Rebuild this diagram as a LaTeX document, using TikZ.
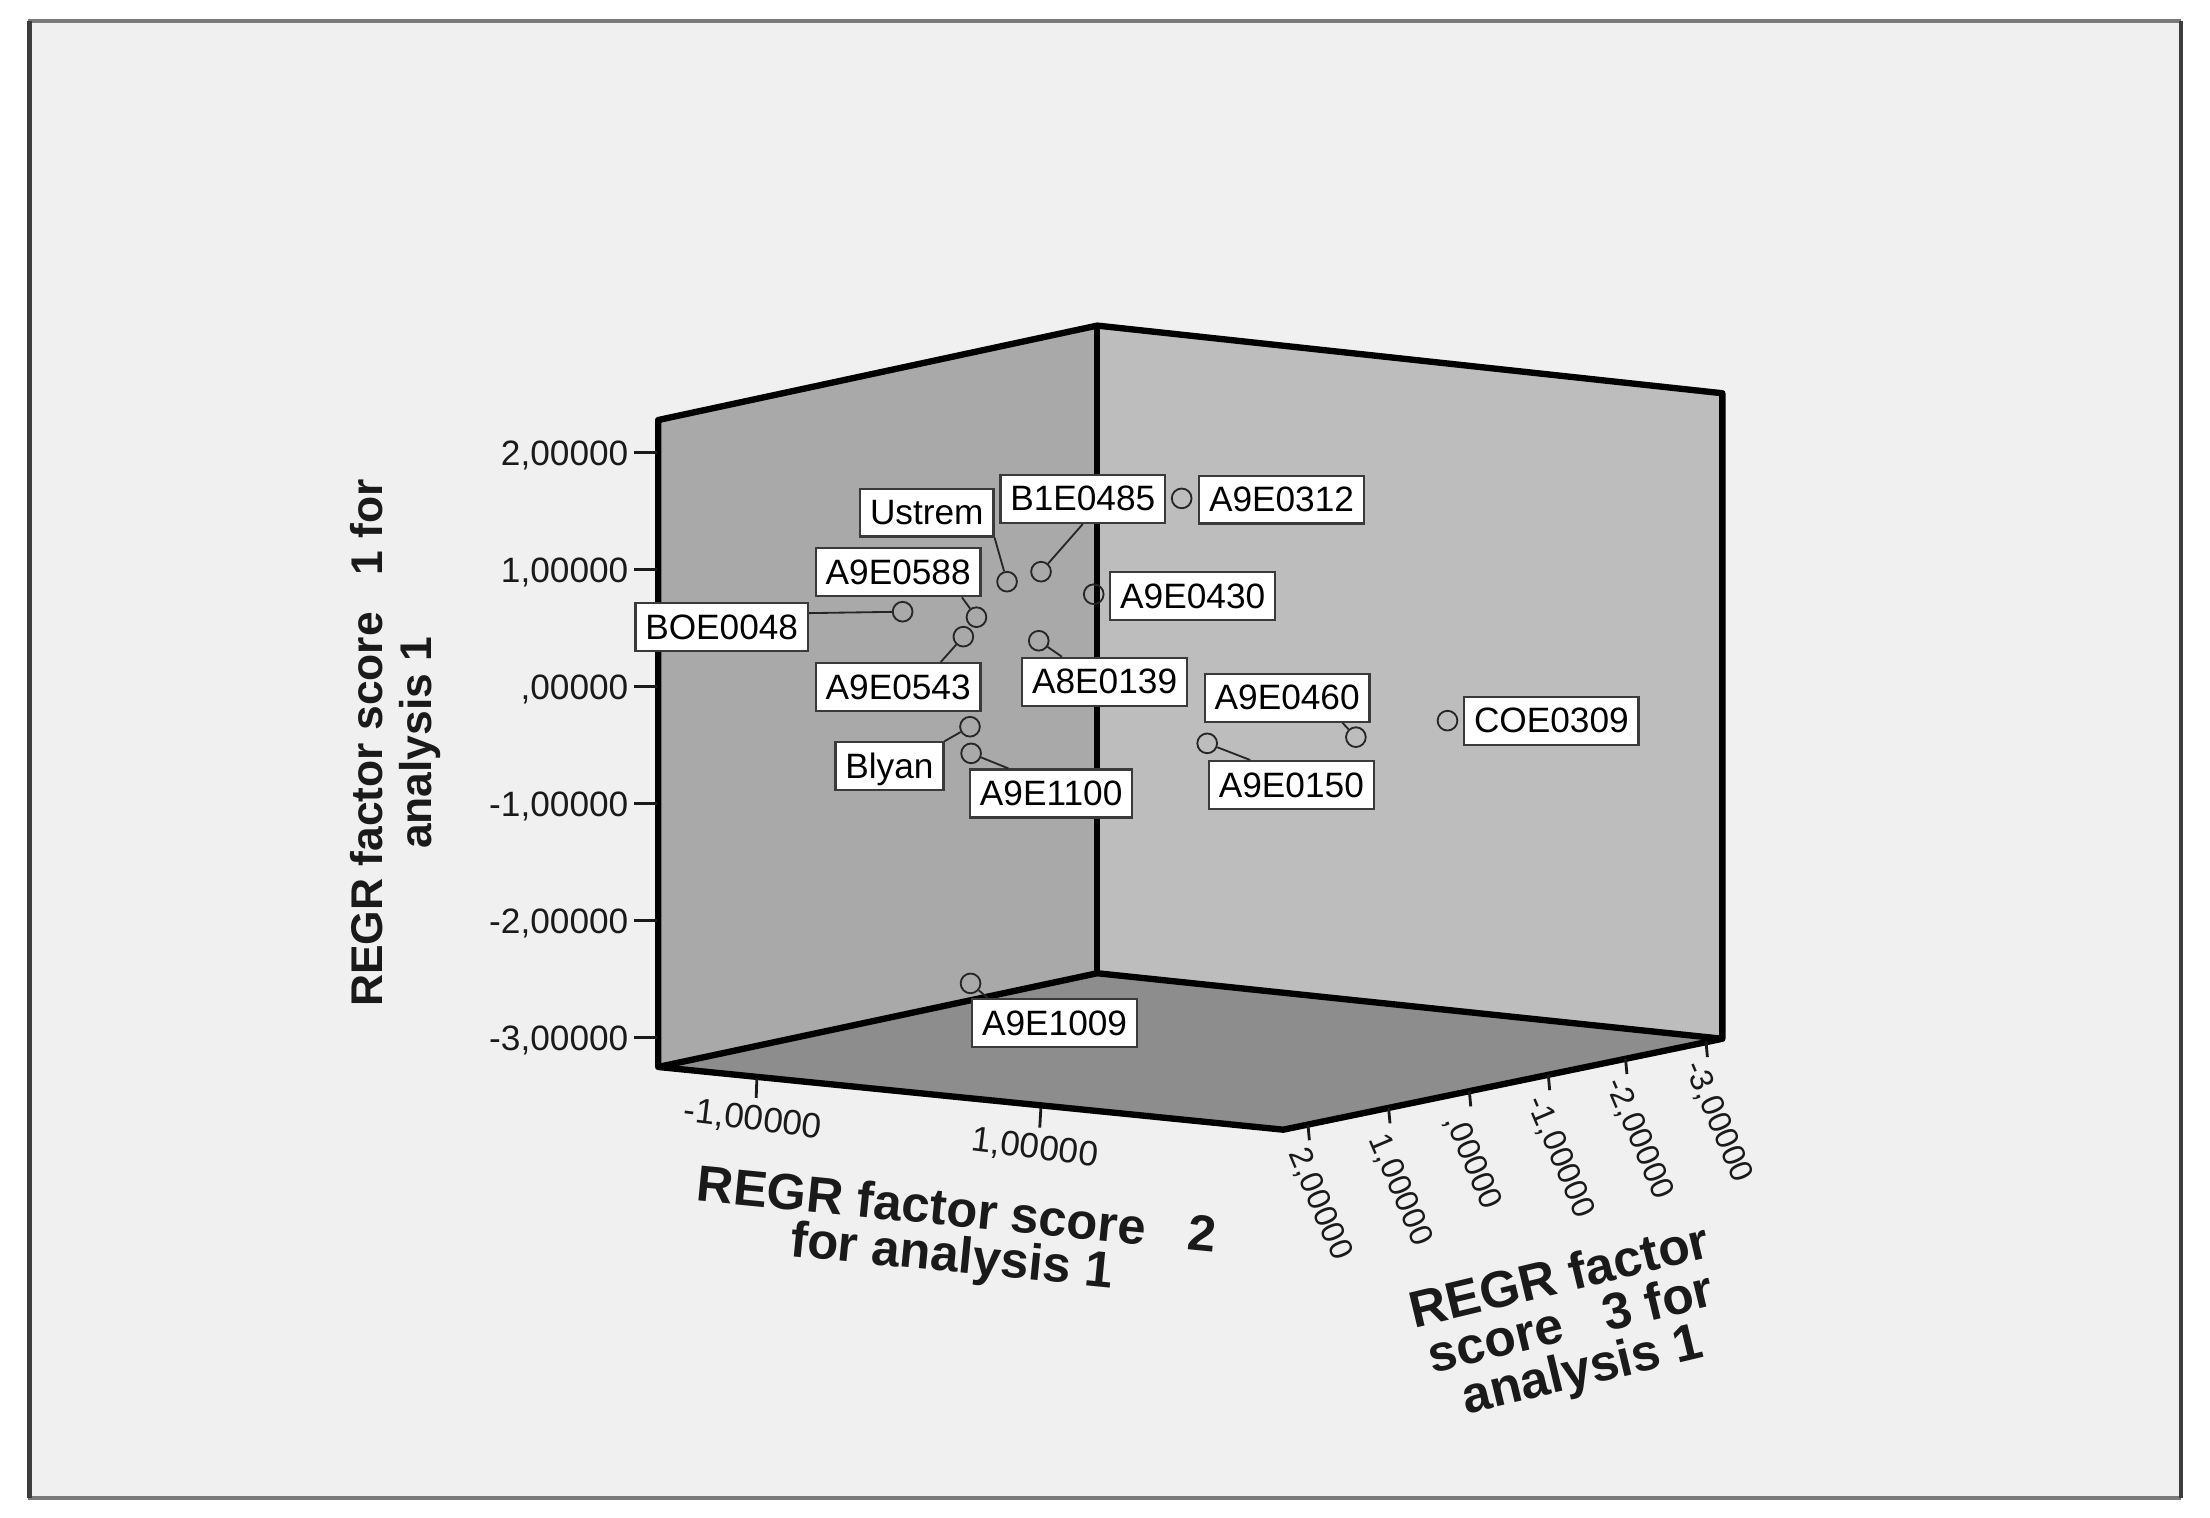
\documentclass[tikz,border=0pt]{standalone}
\usepackage{fontspec}
\setmainfont{Liberation Sans}
\usetikzlibrary{calc}
\definecolor{bgc}{HTML}{F0F0F0}
\definecolor{lwall}{HTML}{A9A9A9}
\definecolor{rwall}{HTML}{BDBDBD}
\definecolor{floorc}{HTML}{8D8D8D}
\definecolor{framed}{HTML}{3C3C3C}
\definecolor{framel}{HTML}{7A7A7A}
\definecolor{boxb}{HTML}{3A3A3A}
\definecolor{ink}{HTML}{1A1A1A}
\begin{document}
\begin{tikzpicture}[x=1pt,y=-1pt,
  lbl/.style={draw=boxb, line width=1.6pt, fill=white, font=\fontsize{25}{30}\selectfont,
    inner xsep=7pt, inner ysep=0pt, minimum height=34pt, text height=18pt, text depth=1pt, anchor=west},
  pnt/.style={circle, draw=black!85, line width=1.3pt, minimum size=14pt, inner sep=0pt},
  conn/.style={draw=black!85, line width=1.3pt},
  cubeedge/.style={line width=4.5pt, line join=round, black},
  tickln/.style={line width=2pt, ink},
  ytl/.style={font=\fontsize{25}{30}\selectfont, text=ink, inner sep=0pt, anchor=base east},
  xtl/.style={font=\fontsize{25}{30}\selectfont, text=ink, inner sep=0pt, rotate=-7},
  ztl/.style={font=\fontsize{23}{30}\selectfont, text=ink, inner sep=0pt, rotate=-67, anchor=west},
  ttl/.style={font=\bfseries, text=ink, align=center, inner sep=0pt}
]
\useasboundingbox (0,0) rectangle (1568,1077);
\fill[white] (0,0) rectangle (1568,1077);
\fill[bgc] (20,15) rectangle (1547.5,1063);
\draw[framel, line width=3pt] (20,15) -- (1547.5,15) (20,1063) -- (1547.5,1063);
\draw[framed, line width=3pt] (21,15) -- (21,1063) (1547.5,15) -- (1547.5,1063);

% cube
\coordinate (TL) at (467,298);
\coordinate (TC) at (778.5,231);
\coordinate (TR) at (1222,279);
\coordinate (BL) at (467,757);
\coordinate (BC) at (778.5,690.5);
\coordinate (BR) at (1222,737);
\coordinate (BF) at (910.5,801.5);
\fill[lwall] (TL) -- (TC) -- (BC) -- (BL) -- cycle;
\fill[rwall] (TC) -- (TR) -- (BR) -- (BC) -- cycle;
\fill[floorc] (BL) -- (BC) -- (BR) -- (BF) -- cycle;
\draw[cubeedge] (BL) -- (BC) -- (BR);
\draw[cubeedge] (TC) -- (BC);
\draw[cubeedge] (TL) -- (TC) -- (TR) -- (BR) -- (BF) -- (BL) -- cycle;

% y axis
\draw[tickln] (450,321) -- (466,321) (450,404) -- (466,404) (450,487) -- (466,487)
  (450,570) -- (466,570) (450,653) -- (466,653) (450,736) -- (466,736);
\node[ytl] (yl1) at (446,330) {2,00000};
\node[ytl] (yl2) at (446,413) {1,00000};
\node[ytl] (yl3) at (446,496) {,00000};
\node[ytl] (yl4) at (446,579) {-1,00000};
\node[ytl] (yl5) at (446,662) {-2,00000};
\node[ytl] (yl6) at (446,745) {-3,00000};
\node[ttl, rotate=90, font=\bfseries\fontsize{31.5}{35}\selectfont] (ytitle) at (280.5,527)
  {REGR factor score\ \ \ 1 for\\analysis 1};

% axis 2
\draw[tickln] (537,765) -- (536.5,779) (738.5,786) -- (737.7,800);
\node[xtl] (xl1) at (534,794.6) {-1,00000};
\node[xtl] (xl2) at (734,815) {1,00000};
\node[ttl, rotate=-5.6, font=\bfseries\fontsize{36}{32.5}\selectfont] (xtitle) at (677,877)
  {REGR factor score\ \ \ 2\\for analysis 1};

% axis 3
\draw[tickln] (928,798) -- (929,809) (985.2,786) -- (986.2,797) (1042.5,774) -- (1043.5,785)
  (1098.5,762.5) -- (1099.5,773.5) (1153.3,751) -- (1154.3,762) (1210.4,739) -- (1211.4,750);
\node[ztl] (zl1) at (920,816) {2,00000};
\node[ztl] (zl2) at (977,806) {1,00000};
\node[ztl] (zl3) at (1031,792) {,00000};
\node[ztl] (zl4) at (1089,779) {-1,00000};
\node[ztl] (zl5) at (1145,766) {-2,00000};
\node[ztl] (zl6) at (1201,754) {-3,00000};
\node[ttl, rotate=13.5, font=\bfseries\fontsize{36.5}{34}\selectfont] (ztitle) at (1115,941)
  {REGR factor\\score\ \ \ 3 for\\analysis 1};

% data labels
\node[lbl] (b1) at (850,354.5) {A9E0312};
\node[lbl] (b2) at (709,354) {B1E0485};
\node[lbl] (b3) at (609.5,363.7) {Ustrem};
\node[lbl] (b4) at (787,423) {A9E0430};
\node[lbl] (b5) at (578,406) {A9E0588};
\node[lbl] (b6) at (450,445) {BOE0048};
\node[lbl] (b7) at (578,487.5) {A9E0543};
\node[lbl] (b8) at (724.5,483.8) {A8E0139};
\node[lbl] (b9) at (854,495) {A9E0460};
\node[lbl] (b10) at (1038,511.4) {COE0309};
\node[lbl] (b11) at (857,557) {A9E0150};
\node[lbl] (b12) at (592,543.7) {Blyan};
\node[lbl] (b13) at (687.5,563) {A9E1100};
\node[lbl] (b14) at (689,726) {A9E1009};

% data points
\node[pnt] (c1) at (838.4,353.6) {};
\node[pnt] (c2) at (738.6,405.6) {};
\node[pnt] (c3) at (714.5,412.7) {};
\node[pnt] (c4) at (776,421.6) {};
\node[pnt] (c5) at (692.8,437.9) {};
\node[pnt] (c6) at (640.4,434) {};
\node[pnt] (c7) at (683.5,451.7) {};
\node[pnt] (c8) at (737,454.6) {};
\node[pnt] (c9) at (962,523) {};
\node[pnt] (c10) at (1027,511.3) {};
\node[pnt] (c11) at (856.5,527.4) {};
\node[pnt] (c12) at (688.2,515.6) {};
\node[pnt] (c13) at (689,534.5) {};
\node[pnt] (c14) at (688.6,697.7) {};

% connectors
\draw[conn] (c2) -- (b2.south);
\draw[conn] (c3) -- (b3.south east);
\draw[conn] (c5) -- ([xshift=-14pt]b5.south east);
\draw[conn] (c6) -- ([yshift=10pt]b6.east);
\draw[conn] (c7) -- ([xshift=-29pt]b7.north east);
\draw[conn] (c8) -- ([xshift=29pt]b8.north west);
\draw[conn] (c9) -- ([xshift=-20pt]b9.south east);
\draw[conn] (c11) -- ([xshift=30pt]b11.north west);
\draw[conn] (c12) -- (b12.north east);
\draw[conn] (c13) -- ([xshift=28pt]b13.north west);
\draw[conn] (c14) -- ([xshift=12pt]b14.north west);
\end{tikzpicture}
\end{document}
